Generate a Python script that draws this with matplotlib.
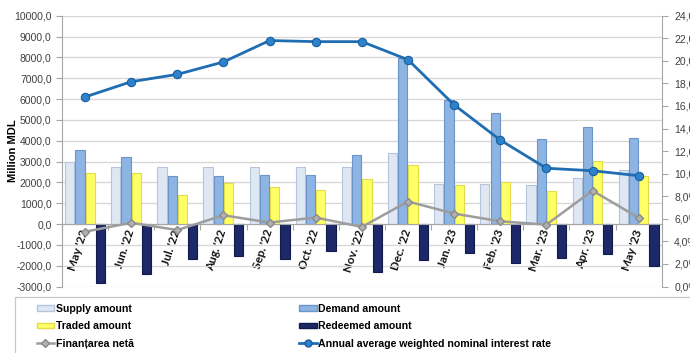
import matplotlib
matplotlib.use("Agg")
import matplotlib.pyplot as plt
import matplotlib.transforms as mtransforms
from matplotlib.patches import Rectangle, Patch
from matplotlib.lines import Line2D
from matplotlib.ticker import FuncFormatter, MultipleLocator
import numpy as np

months = ["May '22", "Jun. '22", "Jul. '22", "Aug. '22", "Sep. '22", "Oct. '22",
          "Nov. '22", "Dec. '22", "Jan. '23", "Feb. '23", "Mar. '23", "Apr. '23", "May '23"]

supply = [3000, 2740, 2740, 2740, 2740, 2740, 2740, 3420, 1940, 1940, 1890, 2210, 2610]
demand = [3550, 3230, 2290, 2320, 2370, 2370, 3310, 7950, 5950, 5320, 4100, 4660, 4150]
traded = [2450, 2450, 1400, 1970, 1760, 1610, 2160, 2820, 1890, 2000, 1600, 3020, 2320]
redeemed = [-2820, -2390, -1690, -1550, -1690, -1300, -2300, -1740, -1390, -1870, -1630, -1420, -2020]
net_financing = [-370, 60, -290, 420, 70, 310, -140, 1080, 500, 130, -30, 1600, 300]
interest_rate = [16.8, 18.15, 18.8, 19.9, 21.8, 21.7, 21.7, 20.1, 16.1, 12.98, 10.48, 10.26, 9.82]

c_supply, e_supply = "#dfe7f3", "#b4c4da"
c_demand, e_demand = "#8db4e3", "#6b94c8"
c_traded, e_traded = "#ffff66", "#e2dc4a"
c_redeem, e_redeem = "#1d2868", "#121a4c"
c_rate = "#1f6db3"
c_net = "#9d9d9d"

fig = plt.figure(figsize=(6.9, 3.53), dpi=100)
ax = fig.add_axes([62 / 690, 1 - 286.5 / 353, (661.7 - 62) / 690, (286.5 - 15.7) / 353])

x = np.arange(len(months))
step, bw = 0.222, 0.2
series = [
    (supply, c_supply, e_supply, -1.5),
    (demand, c_demand, e_demand, -0.5),
    (traded, c_traded, e_traded, 0.5),
    (redeemed, c_redeem, e_redeem, 1.5),
]
for vals, fc, ec, k in series:
    ax.bar(x + k * step, vals, width=bw, color=fc, edgecolor=ec, linewidth=0.8, zorder=2)

ax.plot(x, net_financing, color=c_net, lw=1.8, marker="D", ms=4.5,
        mfc="#b0b0b0", mec="#8a8a8a", zorder=4)

ax.set_xlim(-0.5, len(months) - 0.5)
ax.set_ylim(-3000, 10000)
ax.yaxis.set_major_locator(MultipleLocator(1000))
ax.yaxis.set_major_formatter(FuncFormatter(lambda v, p: f"{v:.1f}".replace(".", ",")))
ax.grid(axis="y", color="#d6d6d6", lw=0.9, zorder=0)
ax.set_axisbelow(True)

for s in ["top", "right"]:
    ax.spines[s].set_visible(False)
ax.spines["left"].set_color("#a6a6a6")
ax.spines["bottom"].set_position(("data", 0))
ax.spines["bottom"].set_color("#a6a6a6")
ax.tick_params(axis="y", colors="#a6a6a6", labelcolor="#404040", labelsize=7.5,
               length=4, width=0.8)
for t in ax.get_yticklabels():
    t.set_fontfamily("Liberation Sans")

ax.set_xticks(x)
ax.set_xticks(np.arange(-0.5, len(months), 1), minor=True)
ax.tick_params(axis="x", which="major", length=0, pad=3)
ax.tick_params(axis="x", which="minor", length=4, color="#a6a6a6", width=0.8)
ax.set_xticklabels(months, rotation=72, ha="right", va="top",
                   fontsize=8.5, fontweight="bold", family="Lato", color="#111111")
shift = mtransforms.ScaledTranslation(5 / 100, 0, fig.dpi_scale_trans)
for t in ax.get_xticklabels():
    t.set_transform(t.get_transform() + shift)

ax.set_ylabel("Million MDL", fontsize=8, fontweight="bold", family="Liberation Sans")
ax.yaxis.set_label_coords(-0.073, 0.5)

ax2 = ax.twinx()
ax2.set_ylim(0, 24)
ax2.yaxis.set_major_locator(MultipleLocator(2))
ax2.yaxis.set_major_formatter(FuncFormatter(lambda v, p: f"{v:.1f}%".replace(".", ",")))
ax2.plot(x, interest_rate, color=c_rate, lw=2, marker="o", ms=6,
         mfc="#2e82cb", mec="#1a5f9e", mew=0.8, zorder=5)
for s in ["top", "left", "bottom"]:
    ax2.spines[s].set_visible(False)
ax2.spines["right"].set_color("#a6a6a6")
ax2.tick_params(axis="y", colors="#a6a6a6", labelcolor="#404040", labelsize=7.5,
                length=4, width=0.8, pad=5)
for t in ax2.get_yticklabels():
    t.set_fontfamily("Liberation Sans")

# Legend frame
fig.patches.append(Rectangle((15 / 690, -0.05), 0.99, (353 - 297.3) / 353 + 0.05,
                             transform=fig.transFigure, fill=False,
                             edgecolor="#c8c8c8", lw=0.9))

handles = [
    Patch(facecolor=c_supply, edgecolor=e_supply, label="Supply amount"),
    Patch(facecolor=c_traded, edgecolor=e_traded, label="Traded amount"),
    Line2D([], [], color=c_net, lw=1.8, marker="D", ms=4, mfc="#b0b0b0", mec="#8a8a8a",
           label="Finanțarea netă"),
    Patch(facecolor=c_demand, edgecolor=e_demand, label="Demand amount"),
    Patch(facecolor=c_redeem, edgecolor=e_redeem, label="Redeemed amount"),
    Line2D([], [], color=c_rate, lw=2, marker="o", ms=5, mfc="#2e82cb", mec="#1a5f9e",
           label="Annual average weighted nominal interest rate"),
]
fig.legend(handles=handles, ncol=2, loc="upper left", bbox_to_anchor=(27 / 690, 1 - 294 / 353),
           frameon=False, handlelength=1.7, handleheight=0.45, handletextpad=0.15,
           columnspacing=15.6, labelspacing=0.72,
           prop={"family": "Liberation Sans", "weight": "bold", "size": 7.6})

fig.savefig("out.png", dpi=100)
